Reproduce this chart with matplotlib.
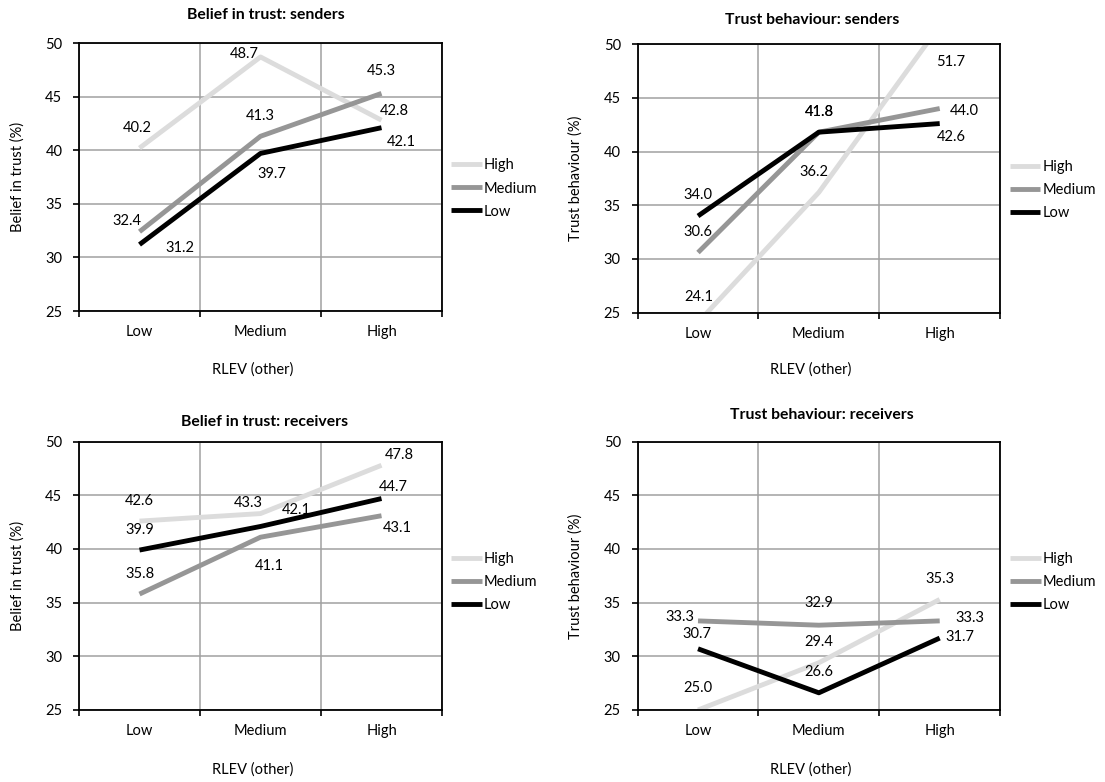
import matplotlib
matplotlib.use("Agg")
import matplotlib.pyplot as plt

plt.rcParams['font.family'] = ['Lato', 'DejaVu Sans']
plt.rcParams['font.size'] = 10.5

W, H = 1105, 782

categories = ['Low', 'Medium', 'High']
series = ['High', 'Medium', 'Low']
colors = {'High': '#dcdcdc', 'Medium': '#969696', 'Low': '#000000'}

# belief in trust: senders
bs_high = [40.2, 48.7, 42.8]
bs_medium = [32.4, 41.3, 45.3]
bs_low = [31.2, 39.7, 42.1]

# trust behaviour: senders
ts_high = [24.1, 36.2, 51.7]
ts_medium = [30.6, 41.8, 44.0]
ts_low = [34.0, 41.8, 42.6]

# belief in trust: receivers
br_high = [42.6, 43.3, 47.8]
br_medium = [35.8, 41.1, 43.1]
br_low = [39.9, 42.1, 44.7]

# trust behaviour: receivers
tr_high = [25.0, 29.4, 35.3]
tr_medium = [33.3, 32.9, 33.3]
tr_low = [30.7, 26.6, 31.7]

yticks = [25, 30, 35, 40, 45, 50]


def px(x, y):
    return x / W, 1 - y / H


fig = plt.figure(figsize=(W / 100, H / 100), dpi=100)

panels = [
    dict(rect=[0.0715, 0.6023, 0.3285, 0.3427], title='Belief in trust: senders',
         ylabel='Belief in trust (%)', data=[bs_high, bs_medium, bs_low],
         title_xy=(266, 15), xlab_xy=(253, 370), ylab_x=18, leg=(1.025, 0.457),
         offs=[[(-2, 20), (-16, 3), (13, 9)],
               [(-13, 11), (0, 20), (0, 22)],
               [(40, -3), (11, -21), (20, -14)]]),
    dict(rect=[0.5770, 0.6001, 0.3281, 0.3436], title='Trust behaviour: senders',
         ylabel='Trust behaviour (%)', data=[ts_high, ts_medium, ts_low],
         title_xy=(812, 20), xlab_xy=(811, 370), ylab_x=576, leg=(1.026, 0.457),
         offs=[[(1, 25), (-5, 20), (11, -36)],
               [(0, 21), (0, 20), (25, -2)],
               [(0, 21), (0, 20), (12, -13)]]),
    dict(rect=[0.0715, 0.0921, 0.3285, 0.3431], title='Belief in trust: receivers',
         ylabel='Belief in trust (%)', data=[br_high, br_medium, br_low],
         title_xy=(265, 422), xlab_xy=(253, 770), ylab_x=18, leg=(1.025, 0.478),
         offs=[[(0, 20), (-12, 11), (18, 10)],
               [(0, 20), (9, -29), (16, -12)],
               [(0, 20), (36, 16), (12, 12)]]),
    dict(rect=[0.5770, 0.0921, 0.3281, 0.3431], title='Trust behaviour: receivers',
         ylabel='Trust behaviour (%)', data=[tr_high, tr_medium, tr_low],
         title_xy=(822, 415), xlab_xy=(811, 770), ylab_x=576, leg=(1.027, 0.478),
         offs=[[(0, 22), (0, 21), (0, 20)],
               [(-18, 4), (0, 22), (30, 3)],
               [(-1, 15), (0, 21), (20, 1)]]),
]

xs = [0.5, 1.5, 2.5]

for p in panels:
    ax = fig.add_axes(p['rect'])
    for name, vals, offs in zip(series, p['data'], p['offs']):
        ax.plot(xs, vals, color=colors[name], lw=3.5, label=name,
                solid_capstyle='butt')
        for x, v, o in zip(xs, vals, offs):
            ax.annotate(f'{v:.1f}', (x, v), xytext=o, textcoords='offset pixels',
                        ha='center', va='center', annotation_clip=False)
    ax.set_xlim(0, 3)
    ax.set_ylim(25, 50)
    ax.set_yticks(yticks)
    ax.set_xticks(xs)
    ax.set_xticklabels(categories)
    ax.set_xticks([0, 1, 2, 3], minor=True)
    ax.tick_params(axis='x', which='major', length=0, pad=10)
    ax.tick_params(axis='x', which='minor', length=4, width=1.2, direction='out')
    ax.tick_params(axis='y', length=4, width=1.2, pad=8)
    ax.grid(axis='y', which='major', color='#a0a0a0', lw=1.1)
    ax.grid(axis='x', which='minor', color='#a0a0a0', lw=1.1)
    ax.set_axisbelow(True)
    for s in ax.spines.values():
        s.set_color('black')
        s.set_linewidth(1.3)
    ax.legend(loc='center left', bbox_to_anchor=p['leg'], frameon=False,
              borderpad=0, borderaxespad=0, handlelength=2.1,
              handletextpad=0.15, labelspacing=0.62)
    fig.text(*px(*p['title_xy']), p['title'], ha='center', va='center',
             fontweight='bold', fontsize=11.3)
    fig.text(*px(*p['xlab_xy']), 'RLEV (other)', ha='center', va='center')
    cy = 1 - (p['rect'][1] + p['rect'][3] / 2)
    fig.text(*px(p['ylab_x'], cy * H), p['ylabel'], ha='center', va='center',
             rotation=90)

fig.savefig('out.png', dpi=100)
